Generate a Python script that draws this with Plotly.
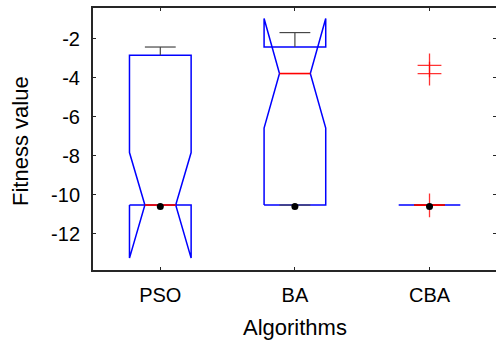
import plotly.graph_objects as go

# Per-algorithm notched box statistics (fitness values)
algorithms = ["PSO", "BA", "CBA"]
q1 = [-10.53, -10.53, -10.53]
median = [-10.53, -3.79, -10.53]
q3 = [-2.85, -2.43, -10.53]
notch_lo = [-13.25, -6.58, -10.53]
notch_hi = [-7.84, -0.97, -10.53]
whisker_lo = [-10.53, -10.53, -10.53]
whisker_hi = [-2.43, -1.69, -10.53]
outliers = [[], [], [-3.37, -3.79, -10.55]]
best = [-10.6, -10.6, -10.6]

y_ticks = [-12, -10, -8, -6, -4, -2]
y_tick_labels = ["-12", "-10", "-8", "-6", "-4", "-2"]

HALF_W = 0.229          # half box width (x units)
NOTCH_W = HALF_W / 2    # half width at the notch waist
CAP_W = HALF_W / 2      # half width of whisker caps

BLUE = "rgb(0,0,255)"
RED = "rgb(255,0,0)"
WHISK = "rgb(70,70,70)"
AXC = "rgb(38,38,38)"

fig = go.Figure()

for i, name in enumerate(algorithms):
    x = i + 1
    l, r = x - HALF_W, x + HALF_W
    il, ir = x - NOTCH_W, x + NOTCH_W
    # notched box outline
    bx = [l, l, il, l, l, r, r, ir, r, r, l]
    by = [q1[i], notch_lo[i], median[i], notch_hi[i], q3[i], q3[i],
          notch_hi[i], median[i], notch_lo[i], q1[i], q1[i]]
    fig.add_trace(go.Scatter(x=bx, y=by, mode="lines",
                             line=dict(color=BLUE, width=1.5),
                             hoverinfo="skip", showlegend=False))
    # whiskers and caps
    wx = [x, x, None, x - CAP_W, x + CAP_W, None,
          x, x, None, x - CAP_W, x + CAP_W]
    wy = [q3[i], whisker_hi[i], None, whisker_hi[i], whisker_hi[i], None,
          q1[i], whisker_lo[i], None, whisker_lo[i], whisker_lo[i]]
    fig.add_trace(go.Scatter(x=wx, y=wy, mode="lines",
                             line=dict(color=WHISK, width=1.2),
                             hoverinfo="skip", showlegend=False))
    # median
    fig.add_trace(go.Scatter(x=[il, ir], y=[median[i], median[i]], mode="lines",
                             line=dict(color=RED, width=1.6),
                             hoverinfo="skip", showlegend=False))
    # outliers
    if outliers[i]:
        fig.add_trace(go.Scatter(x=[x] * len(outliers[i]), y=outliers[i],
                                 mode="markers",
                                 marker=dict(symbol="cross-thin", size=17,
                                             line=dict(color="rgba(255,0,0,0.8)", width=1.3)),
                                 hoverinfo="skip", showlegend=False))

# best value per algorithm
fig.add_trace(go.Scatter(x=[1, 2, 3], y=best, mode="markers",
                         marker=dict(color="black", size=7),
                         hoverinfo="skip", showlegend=False))

# right-side tick marks (no frame line)
fig.add_trace(go.Scatter(x=[None], y=[None], yaxis="y2", showlegend=False))

Y_RANGE = [-13.86, -0.43]
FONT = "Liberation Sans, Arial, Helvetica, sans-serif"

fig.update_layout(
    width=496, height=346,
    margin=dict(l=93, r=0, t=8, b=76),
    plot_bgcolor="white", paper_bgcolor="white",
    font=dict(family=FONT, size=20, color="black"),
    xaxis=dict(range=[0.5, 3.494], tickvals=[1, 2, 3], ticktext=algorithms,
               ticks="inside", ticklen=3, tickcolor=AXC, tickwidth=1,
               showline=True, linecolor=AXC, linewidth=2, mirror="ticks",
               showgrid=False, zeroline=False, ticklabelstandoff=6,
               tickfont=dict(size=20, family=FONT, color="black")),
    yaxis=dict(range=Y_RANGE, tickvals=y_ticks, ticktext=y_tick_labels,
               ticks="inside", ticklen=3, tickcolor=AXC, tickwidth=1,
               showline=True, linecolor=AXC, linewidth=2,
               showgrid=False, zeroline=False, ticklabelstandoff=7,
               tickfont=dict(size=20, family=FONT, color="black")),
    yaxis2=dict(range=Y_RANGE, tickvals=y_ticks, overlaying="y", side="right",
                ticks="inside", ticklen=3, tickcolor=AXC, tickwidth=1,
                showline=False, showticklabels=False, showgrid=False,
                zeroline=False),
    annotations=[
        dict(text="Algorithms", xref="paper", yref="paper", x=0.5, y=0,
             yanchor="middle", yshift=-(327.5 - 270), showarrow=False,
             font=dict(size=22, family=FONT, color="black")),
        dict(text="Fitness value", xref="paper", yref="paper", x=0, y=0.5,
             xanchor="center", xshift=-(93 - 20), yshift=-2, textangle=-90,
             showarrow=False, font=dict(size=22, family=FONT, color="black")),
    ],
)

fig.write_html("out.html")
